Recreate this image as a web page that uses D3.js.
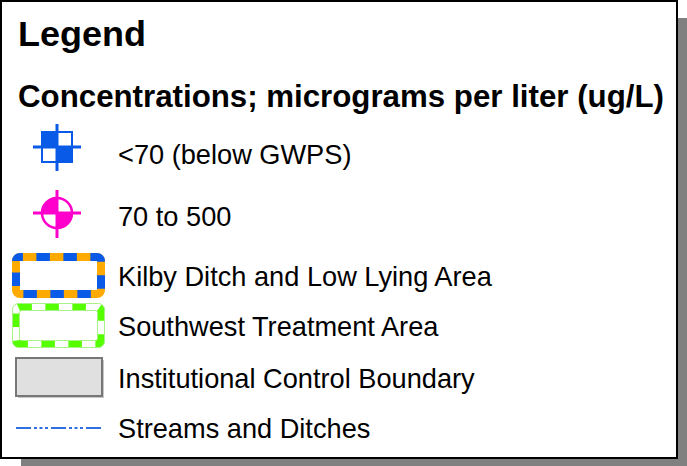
<!DOCTYPE html>
<html>
<head>
<meta charset="utf-8">
<script src="https://cdn.jsdelivr.net/npm/d3@7"></script>
<style>
  body { margin: 0; background: #fff; }
  svg { display: block; font-family: "Liberation Sans", Arial, sans-serif; }
</style>
</head>
<body>
<div id="chart"></div>
<script>
// legend content
const title = "Legend";
const subtitle = "Concentrations; micrograms per liter (ug/L)";
const labels = [
  "<70 (below GWPS)",
  "70 to 500",
  "Kilby Ditch and Low Lying Area",
  "Southwest Treatment Area",
  "Institutional Control Boundary",
  "Streams and Ditches"
];
const symbols = ["quadSquare", "quadCircle", "kilby", "southwest", "institutional", "stream"];

const width = 687;
const height = 466;

const svg = d3.select("#chart")
  .append("svg")
  .attr("width", width)
  .attr("height", height);

// row positions (symbol centre and text baseline)
const rowY = d3.scaleOrdinal().domain(labels).range([147, 213, 275.5, 325.5, 377, 428]);
const textY = d3.scaleOrdinal().domain(labels).range([164, 226, 286, 336, 388, 438]);

// shadow + frame
svg.append("rect")
  .attr("x", 21).attr("y", 18)
  .attr("width", 666).attr("height", 448)
  .attr("fill", "#808080");

svg.append("rect")
  .attr("x", 1).attr("y", 1)
  .attr("width", 676).attr("height", 457)
  .attr("fill", "#fff")
  .attr("stroke", "#000")
  .attr("stroke-width", 2);

// fit a text element to a target width
function fit(sel, size, target) {
  sel.attr("font-size", size);
  const w = sel.node().getComputedTextLength();
  sel.attr("font-size", size * target / w);
}

const t1 = svg.append("text")
  .attr("x", 18).attr("y", 46)
  .attr("font-weight", "bold")
  .text(title);
fit(t1, 36, 128);

const t2 = svg.append("text")
  .attr("x", 18).attr("y", 107)
  .attr("font-weight", "bold")
  .text(subtitle);
fit(t2, 31, 646);

// item labels, common size from the longest line
const items = svg.selectAll("text.item")
  .data(labels)
  .enter()
  .append("text")
  .attr("class", "item")
  .attr("x", 118)
  .attr("y", d => textY(d))
  .attr("fill", "#000")
  .text(d => d);
const probe = items.filter(d => d === labels[2]);
probe.attr("font-size", 27);
const itemSize = 27 * 374 / probe.node().getComputedTextLength();
items.attr("font-size", itemSize);

const cx = 57;
const blue = "#0a5ae8";
const magenta = "#ff00cc";

// rounded box path starting at the top-left corner, going clockwise
function roundBox(x, y, w, h, r) {
  const p = d3.path();
  p.moveTo(x, y + r);
  p.arcTo(x, y, x + r, y, r);
  p.lineTo(x + w - r, y);
  p.arcTo(x + w, y, x + w, y + r, r);
  p.lineTo(x + w, y + h - r);
  p.arcTo(x + w, y + h, x + w - r, y + h, r);
  p.lineTo(x + r, y + h);
  p.arcTo(x, y + h, x, y + h - r, r);
  p.closePath();
  return p.toString();
}

// symbols
symbols.forEach((s, i) => {
  const cy = rowY(labels[i]);
  const g = svg.append("g");
  if (s === "quadSquare") {
    const h = 16;
    g.append("rect").attr("x", cx - h).attr("y", cy - h).attr("width", h).attr("height", h).attr("fill", blue);
    g.append("rect").attr("x", cx).attr("y", cy).attr("width", h).attr("height", h).attr("fill", blue);
    g.append("rect").attr("x", cx - h + 1).attr("y", cy - h + 1).attr("width", 2 * h - 2).attr("height", 2 * h - 2)
      .attr("fill", "none").attr("stroke", blue).attr("stroke-width", 2);
    g.append("line").attr("x1", cx - 24).attr("x2", cx + 24).attr("y1", cy).attr("y2", cy)
      .attr("stroke", blue).attr("stroke-width", 3);
    g.append("line").attr("x1", cx).attr("x2", cx).attr("y1", cy - 23).attr("y2", cy + 24)
      .attr("stroke", blue).attr("stroke-width", 3);
  } else if (s === "quadCircle") {
    const r = 16;
    const arc = d3.arc().innerRadius(0).outerRadius(r);
    g.append("path").attr("transform", `translate(${cx},${cy})`)
      .attr("d", arc({ startAngle: -Math.PI / 2, endAngle: 0 })).attr("fill", magenta);
    g.append("path").attr("transform", `translate(${cx},${cy})`)
      .attr("d", arc({ startAngle: Math.PI / 2, endAngle: Math.PI })).attr("fill", magenta);
    g.append("circle").attr("cx", cx).attr("cy", cy).attr("r", r - 1)
      .attr("fill", "none").attr("stroke", magenta).attr("stroke-width", 2.5);
    g.append("line").attr("x1", cx - 24).attr("x2", cx + 24).attr("y1", cy).attr("y2", cy)
      .attr("stroke", magenta).attr("stroke-width", 3);
    g.append("line").attr("x1", cx).attr("x2", cx).attr("y1", cy - 23).attr("y2", cy + 25)
      .attr("stroke", magenta).attr("stroke-width", 3);
  } else if (s === "kilby") {
    const d = roundBox(16, cy - 18.5, 85, 37, 4);
    g.append("path").attr("d", d)
      .attr("fill", "none").attr("stroke", "#ffaa00").attr("stroke-width", 8);
    // orange for the first ~9px from the corner, then blue/orange alternating
    g.append("path").attr("d", d)
      .attr("fill", "none").attr("stroke", blue).attr("stroke-width", 8)
      .attr("stroke-dasharray", "13.5 13.5")
      .attr("stroke-dashoffset", 4.5);
  } else if (s === "southwest") {
    const d = roundBox(16, cy - 18.5, 85, 37, 4);
    g.append("path").attr("d", d)
      .attr("fill", "none").attr("stroke", "#55ff00").attr("stroke-width", 8)
      .attr("stroke-dasharray", "13.5 13.5")
      .attr("stroke-dashoffset", -4.5);
    g.append("path").attr("d", roundBox(12.5, cy - 22, 92, 44, 6))
      .attr("fill", "none").attr("stroke", "#a8f088").attr("stroke-width", 1);
    g.append("path").attr("d", roundBox(19.5, cy - 15, 78, 30, 2))
      .attr("fill", "none").attr("stroke", "#a8f088").attr("stroke-width", 1);
  } else if (s === "institutional") {
    g.append("rect")
      .attr("x", 18).attr("y", cy - 17)
      .attr("width", 86).attr("height", 38)
      .attr("fill", "#c8c8c8");
    g.append("rect")
      .attr("x", 16).attr("y", cy - 19)
      .attr("width", 86).attr("height", 38)
      .attr("fill", "#e0e0e0")
      .attr("stroke", "#777")
      .attr("stroke-width", 2);
  } else if (s === "stream") {
    g.append("line")
      .attr("x1", 16).attr("x2", 101)
      .attr("y1", cy).attr("y2", cy)
      .attr("stroke", "#2f6fe0")
      .attr("stroke-width", 2)
      .attr("stroke-dasharray", "15 3 3 2.5 3 2.5 3 3");
  }
});
</script>
</body>
</html>
